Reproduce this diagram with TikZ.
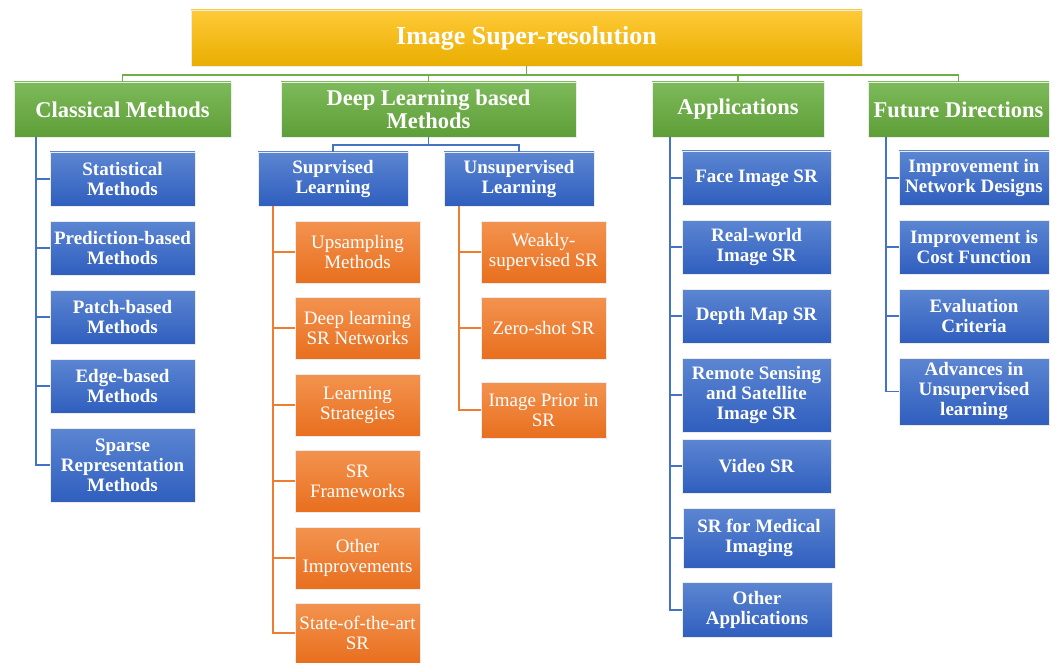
\documentclass[tikz,border=0pt]{standalone}
\usepackage{fontspec}
\setmainfont{Liberation Serif}
\definecolor{goldtop}{HTML}{FFCA38}
\definecolor{goldbot}{HTML}{E9AE00}
\definecolor{greentop}{HTML}{7DBA5A}
\definecolor{greenbot}{HTML}{5E9E38}
\definecolor{bluetop}{HTML}{5C86D2}
\definecolor{bluebot}{HTML}{2F5EBE}
\definecolor{orangetop}{HTML}{F3934F}
\definecolor{orangebot}{HTML}{E86F1E}
\definecolor{greenline}{HTML}{70AD47}
\definecolor{blueline}{HTML}{4472C4}
\definecolor{orangeline}{HTML}{ED7D31}

\begin{document}
\begin{tikzpicture}[x=1pt, y=-1pt, semithick,
  box/.style={draw=white!85!gray, thin, inner sep=0pt, align=center, text=white},
  titlebox/.style={box, top color=goldtop, bottom color=goldbot, font=\fontsize{26}{28}\selectfont\bfseries, minimum width=671, minimum height=56},
  greenbox/.style={box, top color=greentop, bottom color=greenbot, font=\fontsize{22.5}{23}\selectfont\bfseries, minimum height=55},
  bluebox/.style={box, top color=bluetop, bottom color=bluebot, font=\fontsize{19}{20}\selectfont\bfseries, minimum height=54},
  orangebox/.style={box, top color=orangetop, bottom color=orangebot, font=\fontsize{19}{20}\selectfont, minimum width=125, minimum height=62},
  gline/.style={draw=greenline, line width=1.5},
  bline/.style={draw=blueline, line width=1.5},
  oline/.style={draw=orangeline, line width=1.5}]

\useasboundingbox (0,0) rectangle (1059,663);

\node (title) at (526.5, 38) [titlebox] {Image Super-resolution};

\node (classic) at (122.5, 109.5) [greenbox, minimum width=217] {Classical Methods};
\node (deep)    at (428.5, 109.5) [greenbox, minimum width=295] {Deep Learning based\\Methods};
\node (apps)    at (738, 109.5)   [greenbox, minimum width=172] {Applications};
\node (future)  at (958.5, 109.5) [greenbox, minimum width=181] {Future Directions};

% classical methods
\node (stat)   at (122.5, 179) [bluebox, minimum width=145] {Statistical\\Methods};
\node (pred)   at (122.5, 248) [bluebox, minimum width=145] {Prediction-based\\Methods};
\node (patch)  at (122.5, 317) [bluebox, minimum width=145] {Patch-based\\Methods};
\node (edgeb)  at (122.5, 386) [bluebox, minimum width=145] {Edge-based\\Methods};
\node (sparse) at (122.5, 465) [bluebox, minimum width=145, minimum height=74] {Sparse\\Representation\\Methods};

% deep learning based methods
\node (sup)   at (333, 179) [bluebox, minimum width=150] {Suprvised\\Learning};
\node (unsup) at (519, 179) [bluebox, minimum width=150] {Unsupervised\\Learning};

\node (ups)   at (357.5, 252) [orangebox] {Upsampling\\Methods};
\node (dlsr)  at (357.5, 328) [orangebox] {Deep learning\\SR Networks};
\node (strat) at (357.5, 405) [orangebox] {Learning\\Strategies};
\node (frame) at (357.5, 481) [orangebox] {SR\\Frameworks};
\node (oimp)  at (357.5, 558) [orangebox] {Other\\Improvements};
\node (sota)  at (357.5, 633) [orangebox, minimum height=60] {State-of-the-art\\SR};

\node (weak)  at (543.5, 252) [orangebox] {Weakly-\\supervised SR};
\node (zero)  at (543.5, 328) [orangebox] {Zero-shot SR};
\node (prior) at (543.5, 410) [orangebox, minimum height=56] {Image Prior in\\SR};

% applications
\node (face)    at (756.5, 178) [bluebox, minimum width=149] {Face Image SR};
\node (real)    at (756.5, 247) [bluebox, minimum width=149] {Real-world\\Image SR};
\node (depth)   at (756.5, 316) [bluebox, minimum width=149] {Depth Map SR};
\node (remote)  at (756.5, 395) [bluebox, minimum width=149, minimum height=74] {Remote Sensing\\and Satellite\\Image SR};
\node (video)   at (756.5, 466) [bluebox, minimum width=149] {Video SR};
\node (medical) at (759, 538)   [bluebox, minimum width=152, minimum height=60] {SR for Medical\\Imaging};
\node (oapps)   at (757, 610)   [bluebox, minimum width=150, minimum height=55] {Other\\Applications};

% future directions
\node (impnet)  at (974, 178)   [bluebox, minimum width=150] {Improvement in\\Network Designs};
\node (impcost) at (974, 247)   [bluebox, minimum width=150] {Improvement is\\Cost Function};
\node (evalc)   at (974, 316)   [bluebox, minimum width=150] {Evaluation\\Criteria};
\node (adv)     at (974, 391.5) [bluebox, minimum width=150, minimum height=67] {Advances in\\Unsupervised\\learning};

\coordinate (bus)     at (526.5, 75);
\coordinate (dbus)    at (428.5, 145);
\coordinate (cmtop)   at (36, 137);
\coordinate (suptop)  at (273, 206);
\coordinate (unsuptop) at (459, 206);
\coordinate (appstop) at (670, 137);
\coordinate (futtop)  at (886, 137);

\path[gline] (title.south) edge (bus);
\foreach \n in {classic, deep, apps, future}
  \draw[gline] (bus) -| (\n.north);

\path[bline] (deep.south) edge (dbus);
\draw[bline] (dbus) -| (sup.north);
\draw[bline] (dbus) -| (unsup.north);

\foreach \n in {stat, pred, patch, edgeb, sparse}
  \draw[bline] (cmtop) |- (\n.west);

\foreach \n in {ups, dlsr, strat, frame, oimp, sota}
  \draw[oline] (suptop) |- (\n.west);

\foreach \n in {weak, zero, prior}
  \draw[oline] (unsuptop) |- (\n.west);

\foreach \n in {face, real, depth, remote, video, medical, oapps}
  \draw[bline] (appstop) |- (\n.west);

\foreach \n in {impnet, impcost, evalc, adv}
  \draw[bline] (futtop) |- (\n.west);

\end{tikzpicture}
\end{document}
